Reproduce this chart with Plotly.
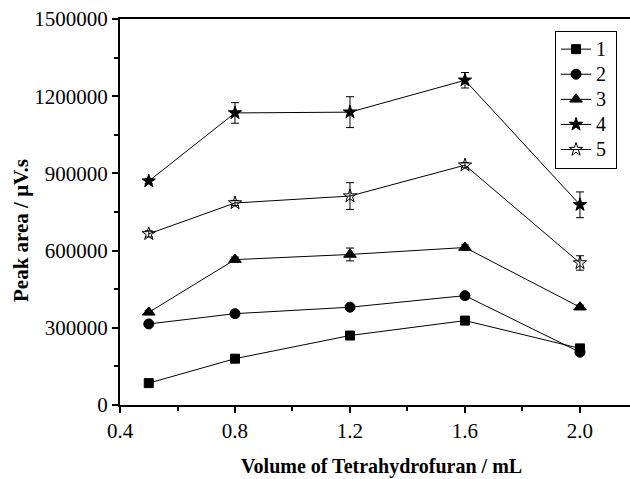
import plotly.graph_objects as go

x_vals = [0.5, 0.8, 1.2, 1.6, 2.0]
names = ["1", "2", "3", "4", "5"]
s1 = [85000, 180000, 270000, 328000, 220000]
s2 = [315000, 355000, 380000, 425000, 205000]
s3 = [360000, 565000, 585000, 612000, 380000]
s4 = [870000, 1135000, 1138000, 1262000, 778000]
s5 = [665000, 785000, 812000, 932000, 552000]
e1 = [3000, 5000, 5000, 5000, 5000]
e2 = [5000, 5000, 5000, 5000, 5000]
e3 = [8000, 10000, 25000, 10000, 8000]
e4 = [10000, 40000, 60000, 30000, 50000]
e5 = [12000, 10000, 52000, 10000, 28000]

series = [s1, s2, s3, s4, s5]
errs = [e1, e2, e3, e4, e5]
symbols = ["square", "circle", "triangle-up", "star", "star-open"]
sizes = [9, 10, 11, 10, 10]

fig = go.Figure()
for n, s, e, sym, sz in zip(names, series, errs, symbols, sizes):
    fig.add_trace(go.Scatter(
        x=x_vals, y=s, name="<span style='font-size:20px'>%s&nbsp;</span>" % n,
        mode="lines+markers",
        line=dict(color="black", width=1),
        marker=dict(symbol=sym, size=sz, color="black",
                    line=dict(color="black", width=1)),
        error_y=dict(type="data", array=e, visible=True, color="black",
                     thickness=1, width=4),
    ))

font_fam = "Liberation Serif, Times New Roman, serif"
fig.update_layout(
    width=630, height=479,
    margin=dict(l=120, r=0, t=19, b=74),
    plot_bgcolor="white", paper_bgcolor="white",
    font=dict(family=font_fam, size=20, color="black"),
    legend=dict(x=0.853, y=0.97, xanchor="left", yanchor="top",
                bordercolor="black", borderwidth=1, bgcolor="white",
                font=dict(size=17, color="black"), tracegroupgap=0, itemwidth=30),
    xaxis=dict(
        range=[0.4, 2.174], tickvals=[0.4, 0.8, 1.2, 1.6, 2.0],
        ticktext=["0.4", "0.8", "1.2", "1.6", "2.0"],
        ticks="outside", ticklen=6, tickwidth=1.5, tickcolor="black",
        minor=dict(tickvals=[0.6, 1.0, 1.4, 1.8], ticks="outside", ticklen=4, tickcolor="black"),
        showline=True, linecolor="black", linewidth=2, mirror=True,
        showgrid=False, zeroline=False, automargin=False,
        tickfont=dict(size=21, color="black"),
    ),
    yaxis=dict(
        range=[0, 1500000], tickvals=[0, 300000, 600000, 900000, 1200000, 1500000],
        ticktext=["0", "300000", "600000", "900000", "1200000", "1500000"],
        ticks="outside", ticklen=6, tickwidth=1.5, tickcolor="black",
        minor=dict(tickvals=[150000, 450000, 750000, 1050000, 1350000], ticks="outside", ticklen=4, tickcolor="black"),
        showline=True, linecolor="black", linewidth=2,
        showgrid=False, zeroline=False, automargin=False,
        tickfont=dict(size=21, color="black"),
    ),
    annotations=[
        dict(text="<b>Volume of Tetrahydrofuran / mL</b>", xref="paper", yref="paper",
             x=(381 - 120) / 510, y=-(466 - 405) / 386, xanchor="center", yanchor="middle",
             showarrow=False, font=dict(size=20, color="black")),
        dict(text="<b>Peak area / μV.s</b>", xref="paper", yref="paper",
             x=-(120 - 21) / 510, y=(405 - 231) / 386, xanchor="center", yanchor="middle",
             textangle=-90, showarrow=False, font=dict(size=21, color="black")),
    ],
)
fig.write_html("out.html")
